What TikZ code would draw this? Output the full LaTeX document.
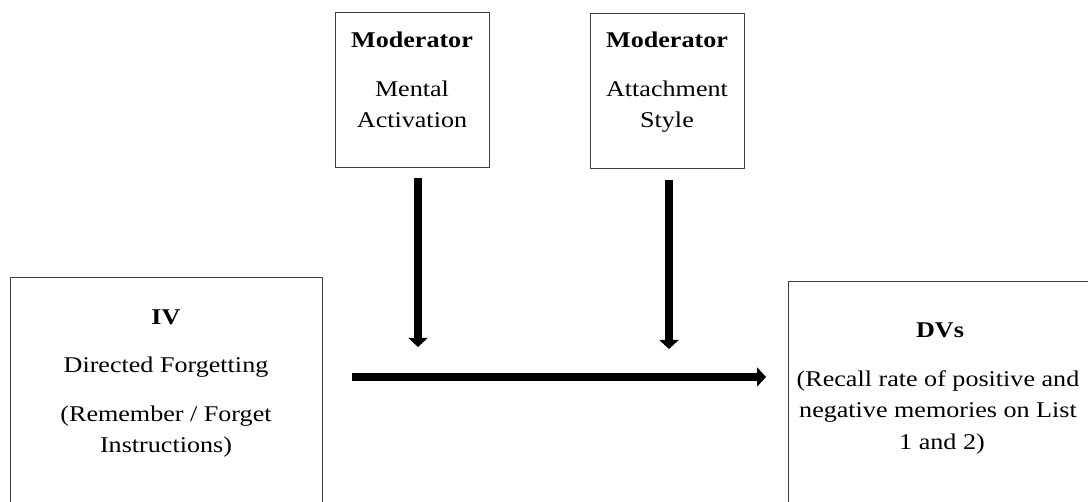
\documentclass[tikz,border=0pt]{standalone}
\usepackage{fontspec}
\setmainfont[FakeStretch=1.16]{Liberation Serif}
\usetikzlibrary{arrows.meta}
\begin{document}
\begin{tikzpicture}[x=1pt,y=-1pt,
  box/.style={draw=black!75,line width=1pt,inner sep=0pt,anchor=north west},
  txt/.style={anchor=base,inner sep=0pt,font=\fontsize{22.5}{27}\selectfont},
  hd/.style={anchor=base,inner sep=0pt,font=\fontsize{22.5}{27}\selectfont\bfseries},
  fat/.style={line width=7.5pt,-{Triangle[length=9pt 0 1,width=19pt 0 1]}}]
\useasboundingbox (0,0) rectangle (1088,502);
\clip (0,0) rectangle (1088,502);
% boxes
\node[box,minimum width=154pt,minimum height=155pt] (ma) at (335,12) {};
\node[box,minimum width=154pt,minimum height=155pt] (as) at (590,13) {};
\node[box,minimum width=312pt,minimum height=260pt] (iv) at (10,277) {};
\node[box,minimum width=330pt,minimum height=260pt] (dv) at (788,281) {};
% texts: moderator 1
\node[hd]  (ma1) at (412,48)  {Moderator};
\node[txt] (ma2) at (412,97)  {Mental};
\node[txt] (ma3) at (412,128) {Activation};
% moderator 2
\node[hd]  (as1) at (667,48)  {Moderator};
\node[txt] (as2) at (667,97)  {Attachment};
\node[txt] (as3) at (667,128) {Style};
% IV
\node[hd]  (iv1) at (166,325) {IV};
\node[txt] (iv2) at (166,373) {Directed Forgetting};
\node[txt] (iv3) at (166,422) {(Remember / Forget};
\node[txt] (iv4) at (166,453) {Instructions)};
% DVs
\node[hd]  (dv1) at (940,338) {DVs};
\node[txt] (dv2) at (938,387) {(Recall rate of positive and};
\node[txt] (dv3) at (938,418) {negative memories on List};
\node[txt] (dv4) at (942,450) {1 and 2)};
% arrow end points
\coordinate (maS) at (418,178);
\coordinate (maE) at (418,347);
\coordinate (asS) at (669,180);
\coordinate (asE) at (669,349);
\coordinate (ivS) at (352,377);
\coordinate (dvE) at (766,377);
% arrows
\draw[fat] (maS) -- (maE);
\draw[fat] (asS) -- (asE);
\draw[fat] (ivS) -- (dvE);
\end{tikzpicture}
\end{document}
